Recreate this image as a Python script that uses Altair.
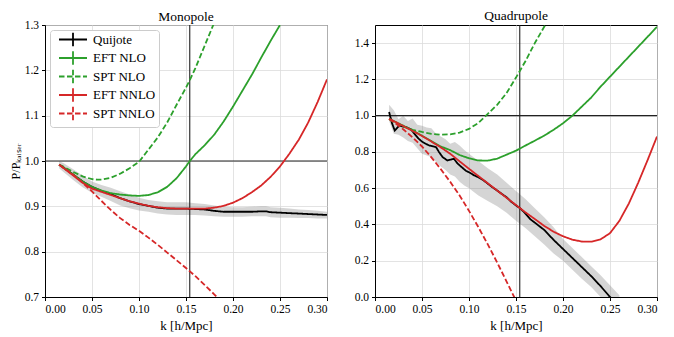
import altair as alt
import pandas as pd

# ---------------- data ----------------
SERIES = ["Quijote", "EFT NLO", "SPT NLO", "EFT NNLO", "SPT NNLO"]
COLORS = ["#000000", "#2ca02c", "#2ca02c", "#d62728", "#d62728"]
DASHES = [[1, 0], [1, 0], [5.5, 2.5], [1, 0], [5.5, 2.5]]
X_TICKS = [0.0, 0.05, 0.10, 0.15, 0.20, 0.25, 0.30]
MONO_TICKS = [0.7, 0.8, 0.9, 1.0, 1.1, 1.2, 1.3]
QUAD_TICKS = [0.0, 0.2, 0.4, 0.6, 0.8, 1.0, 1.2, 1.4]
K_SCALE_CUT = 0.154
UNITY = 1.0

# Monopole
mono_quijote_k = [0.015, 0.02, 0.03, 0.04, 0.05, 0.06, 0.07, 0.08, 0.09, 0.10, 0.11, 0.12, 0.13, 0.14, 0.15,
                  0.16, 0.17, 0.18, 0.19, 0.20, 0.21, 0.22, 0.23, 0.235, 0.24, 0.25, 0.26, 0.27, 0.28, 0.29, 0.30]
mono_quijote_v = [0.992, 0.985, 0.970, 0.955, 0.943, 0.934, 0.927, 0.918, 0.911, 0.905, 0.901, 0.897, 0.895,
                  0.895, 0.895, 0.894, 0.893, 0.890, 0.888, 0.888, 0.888, 0.888, 0.889, 0.889, 0.887, 0.886,
                  0.885, 0.884, 0.883, 0.882, 0.881]
mono_band_hi = [1.000, 0.995, 0.982, 0.968, 0.955, 0.947, 0.941, 0.933, 0.926, 0.919, 0.914, 0.911, 0.909,
                0.909, 0.909, 0.907, 0.905, 0.902, 0.899, 0.898, 0.898, 0.899, 0.900, 0.900, 0.898, 0.897,
                0.895, 0.893, 0.892, 0.890, 0.888]
mono_band_lo = [0.984, 0.975, 0.958, 0.942, 0.930, 0.921, 0.912, 0.902, 0.896, 0.891, 0.888, 0.884, 0.882,
                0.881, 0.881, 0.881, 0.880, 0.878, 0.877, 0.877, 0.877, 0.878, 0.878, 0.878, 0.876, 0.875,
                0.875, 0.874, 0.874, 0.873, 0.873]
mono_eft_nlo_k = [0.015, 0.02, 0.03, 0.04, 0.05, 0.06, 0.07, 0.08, 0.09, 0.10, 0.11, 0.12, 0.13, 0.14, 0.15,
                  0.154, 0.16, 0.17, 0.18, 0.19, 0.20, 0.21, 0.22, 0.23, 0.24, 0.25]
mono_eft_nlo_v = [0.992, 0.985, 0.970, 0.955, 0.943, 0.935, 0.929, 0.926, 0.924, 0.923, 0.925, 0.931, 0.943,
                  0.962, 0.988, 1.000, 1.015, 1.035, 1.058, 1.087, 1.120, 1.155, 1.190, 1.228, 1.265, 1.300]
mono_spt_nlo_k = [0.015, 0.02, 0.03, 0.04, 0.05, 0.055, 0.06, 0.07, 0.08, 0.09, 0.10, 0.11, 0.12, 0.13, 0.14,
                  0.15, 0.154, 0.16, 0.17, 0.18]
mono_spt_nlo_v = [0.992, 0.987, 0.976, 0.966, 0.960, 0.959, 0.959, 0.963, 0.972, 0.984, 0.998, 1.025, 1.052,
                  1.085, 1.124, 1.162, 1.178, 1.205, 1.255, 1.305]
mono_eft_nnlo_k = [0.015, 0.02, 0.03, 0.04, 0.05, 0.06, 0.07, 0.08, 0.09, 0.10, 0.11, 0.12, 0.13, 0.14, 0.15,
                   0.16, 0.17, 0.18, 0.19, 0.20, 0.21, 0.22, 0.23, 0.24, 0.25, 0.26, 0.27, 0.28, 0.29, 0.30]
mono_eft_nnlo_v = [0.992, 0.984, 0.968, 0.952, 0.939, 0.932, 0.925, 0.918, 0.911, 0.906, 0.901, 0.898, 0.896,
                   0.895, 0.895, 0.895, 0.895, 0.897, 0.901, 0.908, 0.918, 0.931, 0.946, 0.965, 0.988, 1.016,
                   1.047, 1.085, 1.130, 1.180]
mono_spt_nnlo_k = [0.015, 0.02, 0.03, 0.04, 0.05, 0.06, 0.07, 0.08, 0.09, 0.10, 0.11, 0.12, 0.13, 0.14, 0.15,
                   0.16, 0.17, 0.18, 0.19]
mono_spt_nnlo_v = [0.992, 0.985, 0.970, 0.952, 0.933, 0.912, 0.892, 0.874, 0.859, 0.846, 0.831, 0.815, 0.798,
                   0.781, 0.764, 0.746, 0.726, 0.706, 0.685]

# Quadrupole
quad_quijote_k = [0.015, 0.018, 0.021, 0.024, 0.026, 0.03, 0.034, 0.038, 0.042, 0.046, 0.05, 0.054, 0.058,
                  0.062, 0.065, 0.068, 0.072, 0.077, 0.081, 0.084, 0.088, 0.092, 0.097, 0.10, 0.105, 0.11,
                  0.115, 0.12, 0.125, 0.13, 0.135, 0.14, 0.145, 0.15, 0.155, 0.16, 0.165, 0.17, 0.175, 0.18,
                  0.19, 0.20, 0.21, 0.22, 0.23, 0.24, 0.25, 0.26]
quad_quijote_v = [1.02, 0.96, 0.918, 0.935, 0.945, 0.94, 0.935, 0.925, 0.90, 0.875, 0.857, 0.845, 0.835,
                  0.83, 0.826, 0.80, 0.771, 0.753, 0.758, 0.762, 0.735, 0.717, 0.695, 0.688, 0.672, 0.66,
                  0.645, 0.625, 0.605, 0.587, 0.568, 0.55, 0.525, 0.505, 0.487, 0.46, 0.43, 0.41, 0.39, 0.37,
                  0.315, 0.265, 0.215, 0.165, 0.115, 0.06, 0.0, -0.05]
quad_band_k = [0.015, 0.02, 0.025, 0.03, 0.035, 0.04, 0.045, 0.05, 0.055, 0.06, 0.065, 0.07, 0.075, 0.08,
               0.085, 0.09, 0.095, 0.10, 0.11, 0.12, 0.13, 0.14, 0.15, 0.16, 0.17, 0.18, 0.19, 0.20, 0.21,
               0.22, 0.23, 0.24, 0.25, 0.26]
quad_band_hi = [1.06, 1.03, 0.98, 1.00, 0.97, 0.985, 0.95, 0.945, 0.935, 0.93, 0.90, 0.885, 0.87, 0.845,
                0.855, 0.835, 0.81, 0.79, 0.75, 0.71, 0.675, 0.63, 0.585, 0.54, 0.49, 0.44, 0.385, 0.32,
                0.27, 0.22, 0.17, 0.12, 0.065, 0.01]
quad_band_lo = [0.97, 0.90, 0.895, 0.88, 0.86, 0.85, 0.82, 0.79, 0.78, 0.77, 0.745, 0.72, 0.70, 0.675,
                0.665, 0.635, 0.615, 0.60, 0.56, 0.53, 0.50, 0.465, 0.42, 0.38, 0.335, 0.29, 0.24, 0.20,
                0.15, 0.10, 0.055, 0.0, -0.05, -0.10]
quad_k = [0.015, 0.02, 0.03, 0.04, 0.05, 0.06, 0.07, 0.08, 0.09, 0.10, 0.11, 0.12, 0.13, 0.14, 0.15, 0.16,
          0.17, 0.18, 0.19, 0.20, 0.21, 0.22, 0.23, 0.24, 0.25, 0.26, 0.27, 0.28, 0.29, 0.30]
quad_eft_nlo_v = [0.982, 0.970, 0.945, 0.918, 0.890, 0.860, 0.830, 0.810, 0.783, 0.765, 0.753, 0.752, 0.763,
                  0.785, 0.807, 0.835, 0.862, 0.890, 0.922, 0.958, 1.000, 1.050, 1.100, 1.160, 1.215, 1.270,
                  1.325, 1.380, 1.435, 1.490]
quad_eft_nnlo_v = [0.982, 0.970, 0.943, 0.916, 0.888, 0.857, 0.825, 0.790, 0.748, 0.707, 0.667, 0.627, 0.587,
                   0.547, 0.507, 0.467, 0.430, 0.392, 0.360, 0.335, 0.316, 0.306, 0.305, 0.318, 0.352, 0.420,
                   0.515, 0.630, 0.755, 0.885]
quad_spt_nlo_k = [0.015, 0.02, 0.03, 0.04, 0.05, 0.06, 0.07, 0.08, 0.09, 0.10, 0.11, 0.12, 0.13, 0.14, 0.15,
                  0.16, 0.17, 0.18, 0.185]
quad_spt_nlo_v = [0.982, 0.965, 0.940, 0.922, 0.910, 0.900, 0.895, 0.897, 0.907, 0.927, 0.960, 1.010, 1.060,
                  1.125, 1.210, 1.300, 1.400, 1.490, 1.530]
quad_spt_nnlo_k = [0.015, 0.02, 0.03, 0.04, 0.05, 0.06, 0.07, 0.08, 0.09, 0.10, 0.11, 0.12, 0.13, 0.14, 0.15]
quad_spt_nnlo_v = [0.982, 0.965, 0.925, 0.880, 0.830, 0.770, 0.705, 0.635, 0.560, 0.475, 0.385, 0.290, 0.190,
                   0.085, -0.020]

# ---------------- styling ----------------
FONT = "Liberation Serif"
PANEL_W, PANEL_H = 282, 272
LEGEND_SYMBOL = "M-4,0H4M0,-1.9V1.9"


def series_df(k, v):
    return pd.DataFrame({"k": k, "v": v})


def panel(title, curves, band_k, band_lo, band_hi, ydomain, yticks, ytitle, show_legend, title_offset):
    xscale = alt.Scale(domain=[0, 0.3], nice=False, zero=False)
    yscale = alt.Scale(domain=ydomain, nice=False, zero=False)
    xaxis = alt.Axis(values=X_TICKS, format=".2f", title="k [h/Mpc]")
    yaxis = alt.Axis(values=yticks, format=".1f", title=ytitle, titleFontSize=12, titlePadding=2)

    def X(f):
        return alt.X(f, scale=xscale, axis=xaxis)

    def Y(f):
        return alt.Y(f, scale=yscale, axis=yaxis)

    band = alt.Chart(pd.DataFrame({"k": band_k, "lo": band_lo, "hi": band_hi})).mark_area(
        color="#808080", opacity=0.33, clip=True
    ).encode(x=X("k:Q"), y=Y("lo:Q"), y2="hi:Q")
    vrule = alt.Chart(pd.DataFrame({"k": [K_SCALE_CUT]})).mark_rule(
        color="#222222", strokeWidth=1.1
    ).encode(x=X("k:Q"))
    hrule = alt.Chart(pd.DataFrame({"v": [UNITY]})).mark_rule(
        color="#222222", strokeWidth=1.1
    ).encode(y=Y("v:Q"))

    if show_legend:
        leg = alt.Legend(
            title=None, orient="top-left", offset=5, padding=3, fillColor="white",
            strokeColor="#cccccc", cornerRadius=3, labelFont=FONT, labelFontSize=13,
            labelColor="black", symbolType=LEGEND_SYMBOL, symbolSize=49,
            symbolStrokeWidth=1.8, rowPadding=-2.5, labelOffset=13.5, symbolOffset=13.5,
        )
    else:
        leg = None

    layers = [band, vrule, hrule]
    for name, (k, v) in zip(SERIES, curves):
        df = series_df(k, v).assign(series=name)
        layers.append(
            alt.Chart(df).mark_line(strokeWidth=1.8, clip=True).encode(
                x=X("k:Q"),
                y=Y("v:Q"),
                color=alt.Color("series:N", scale=alt.Scale(domain=SERIES, range=COLORS), legend=leg),
                strokeDash=alt.StrokeDash("series:N", scale=alt.Scale(domain=SERIES, range=DASHES), legend=leg),
            )
        )
    return alt.layer(*layers).properties(
        width=PANEL_W, height=PANEL_H,
        title=alt.TitleParams(title, offset=title_offset),
    )


mono = panel(
    "Monopole",
    [(mono_quijote_k, mono_quijote_v), (mono_eft_nlo_k, mono_eft_nlo_v), (mono_spt_nlo_k, mono_spt_nlo_v),
     (mono_eft_nnlo_k, mono_eft_nnlo_v), (mono_spt_nnlo_k, mono_spt_nnlo_v)],
    mono_quijote_k, mono_band_lo, mono_band_hi, [0.7, 1.3], MONO_TICKS, "P/Pₖₐᵢₛₑᵣ", True, -4,
)
quad = panel(
    "Quadrupole",
    [(quad_quijote_k, quad_quijote_v), (quad_k, quad_eft_nlo_v), (quad_spt_nlo_k, quad_spt_nlo_v),
     (quad_k, quad_eft_nnlo_v), (quad_spt_nnlo_k, quad_spt_nnlo_v)],
    quad_band_k, quad_band_lo, quad_band_hi, [0.0, 1.5], QUAD_TICKS, None, False, 2,
)

chart = alt.hconcat(mono, quad, spacing=24).resolve_scale(
    color="independent", strokeDash="independent"
).properties(
    padding={"left": 0, "top": 0, "right": 2, "bottom": 0}
).configure_axis(
    labelFont=FONT, labelFontSize=11.5, labelColor="black", titleFont=FONT, titleFontSize=13,
    titleFontWeight="normal", titleColor="black", domainColor="black", tickColor="black",
    tickSize=3.5, labelPadding=3, gridColor="#dcdcdc", gridWidth=0.8, titlePadding=4,
    labelOverlap=False,
).configure_view(
    stroke="black", strokeWidth=1
).configure_title(
    font=FONT, fontSize=13.5, fontWeight="normal", color="black"
).configure_legend(
    labelFont=FONT
)

chart.save("out.html", embed_options={"renderer": "svg", "actions": False})
